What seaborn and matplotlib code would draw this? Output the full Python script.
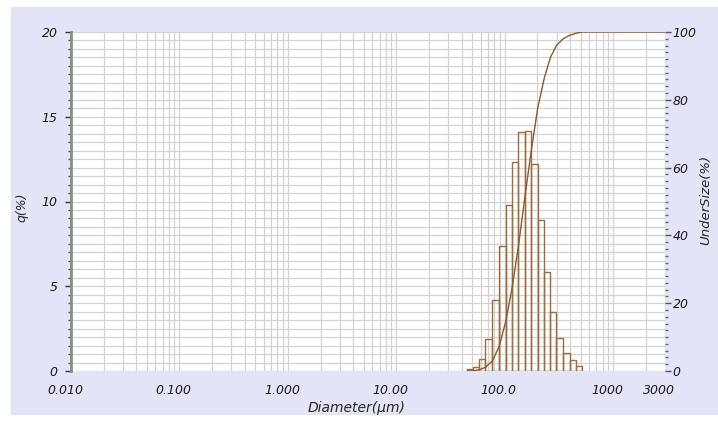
import numpy as np
import matplotlib
matplotlib.use("Agg")
import matplotlib.pyplot as plt
import matplotlib.transforms as mtransforms
import seaborn as sns
from matplotlib.patches import Rectangle
from matplotlib.ticker import FixedLocator, MultipleLocator, LogLocator, NullFormatter

# Bin edges (um) and frequency per bin (%)
bin_edges = [45.0, 51.1, 58.0, 66.3, 77.0, 88.6, 102.1, 116.8, 133.7, 152.9,
             176.1, 201.4, 232.1, 263.6, 299.4, 344.8, 397.2, 457.6, 519.6]
q_values = [0.10, 0.25, 0.73, 1.90, 4.20, 7.40, 9.80, 12.35, 14.08, 14.16,
            12.20, 8.90, 5.86, 3.48, 1.95, 1.04, 0.65, 0.31]

x_ticks = [0.01, 0.1, 1, 10, 100, 1000, 3000]
x_tick_labels = ["0.010", "0.100", "1.000", "10.00", "100.0", "1000", "3000"]

edges = np.array(bin_edges)
centers = np.sqrt(edges[:-1] * edges[1:])
# undersize curve from the frequencies, at upper bin edges
undersize = np.concatenate([[0], np.cumsum(q_values)])
undersize = undersize / undersize[-1] * 100
curve_x = list(edges) + [3000]
curve_y = list(undersize) + [100]

sns.set_style("white")
plt.rcParams["font.family"] = ["DejaVu Sans"]
plt.rcParams["font.style"] = "oblique"
plt.rcParams["text.color"] = "#1a1a1a"
plt.rcParams["xtick.color"] = "#1a1a1a"
plt.rcParams["ytick.color"] = "#1a1a1a"

fig = plt.figure(figsize=(7.18, 4.22), dpi=100)
fig.patch.set_facecolor("white")
fig.patches.append(Rectangle((11 / 718, 1 - 415 / 422), 707 / 718, 408 / 422,
                             transform=fig.transFigure, facecolor="#e4e4f8",
                             edgecolor="none", zorder=-10))

ax = fig.add_axes([71 / 718, 1 - 371 / 422, 594 / 718, 339 / 422])
ax.set_facecolor("white")

sns.histplot(x=centers, weights=q_values, bins=bin_edges, fill=False,
             element="bars", color="#9c6d3e", linewidth=1.0, ax=ax)
ax.set_xscale("log")
ax.set_xlim(0.01, 3000)
ax.set_ylim(0, 20)

ax.xaxis.set_major_locator(FixedLocator(x_ticks))
ax.set_xticklabels(x_tick_labels, fontsize=9, style="oblique")
ax.xaxis.set_minor_locator(LogLocator(base=10, subs=np.arange(2, 10)))
ax.xaxis.set_minor_formatter(NullFormatter())
ax.yaxis.set_major_locator(MultipleLocator(5))
ax.yaxis.set_minor_locator(MultipleLocator(0.5))
ax.tick_params(axis="y", labelsize=9, length=4.5, width=1, color="#333333",
               direction="out", pad=5)
ax.tick_params(axis="y", which="minor", length=2.2, width=1, color="#555555")
ax.tick_params(axis="x", which="major", length=3, width=1, color="#555555",
               direction="out", pad=6)
ax.tick_params(axis="x", which="minor", length=2, width=0.8, color="#777777",
               direction="out")
shift = mtransforms.ScaledTranslation(-6 / 100, 0, fig.dpi_scale_trans)
for lab in ax.get_xticklabels():
    lab.set_transform(lab.get_transform() + shift)
for lab in ax.get_yticklabels():
    lab.set_style("oblique")

ax.grid(True, which="both", axis="both", color="#d2d2d2", linewidth=0.9)
ax.set_axisbelow(True)
for s in ["top", "right", "bottom"]:
    ax.spines[s].set_visible(False)
ax.spines["left"].set_color("#8c8c82")
ax.spines["left"].set_linewidth(2)

ax.set_xlabel("Diameter(\u03bcm)", fontsize=10, style="oblique")
ax.xaxis.set_label_coords((357 - 71) / 594, (371 - 401) / 339)
ax.set_ylabel("q(%)", fontsize=9, style="oblique")
ax.yaxis.set_label_coords((28 - 71) / 594, (371 - 207) / 339)

ax2 = ax.twinx()
sns.lineplot(x=curve_x, y=curve_y, color="#8c5a2b", linewidth=1.0, ax=ax2)
ax2.set_ylim(0, 100)
ax2.set_xlim(0.01, 3000)
ax2.yaxis.set_major_locator(MultipleLocator(20))
ax2.yaxis.set_minor_locator(MultipleLocator(2))
ax2.tick_params(axis="y", labelsize=9, length=4.5, width=1, color="#555555",
                direction="out", pad=1)
ax2.tick_params(axis="y", which="minor", length=2.2, width=1, color="#666666")
for lab in ax2.get_yticklabels():
    lab.set_style("oblique")
for s in ax2.spines.values():
    s.set_visible(False)
ax2.grid(False)
ax2.set_ylabel("UnderSize(%)", fontsize=9.5, style="oblique")
ax2.yaxis.set_label_coords((699 - 71) / 594, (371 - 200) / 339)

fig.savefig("out.png", dpi=100)
